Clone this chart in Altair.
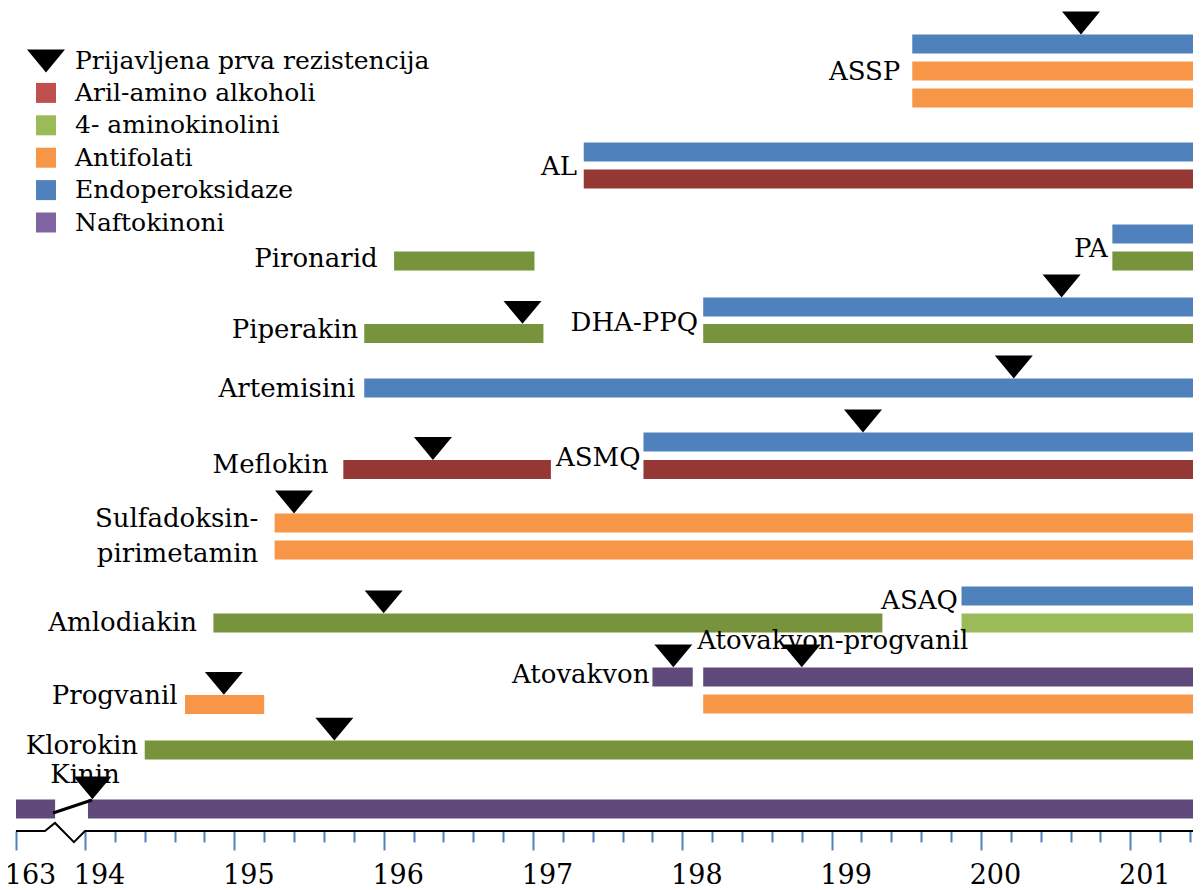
import altair as alt
import pandas as pd

FONT = "DejaVu Serif"
FS = 26          # drug labels
FS_LEG = 25      # legend labels
FS_AX = 27       # axis labels

# ---------------- data ----------------
X0 = 1935.38          # where the 1630s are drawn (axis is broken)
END = 2014.2          # right end of the time axis
BREAK_LABEL = "163"

CLASS_COLOR = {
    "aril": "#953735",
    "amino": "#77933c",
    "amino_light": "#9bbb59",
    "anti": "#f79646",
    "endo": "#4f81bd",
    "nafto": "#604a7b",
}

BAR_DRUG = ["ASSP", "ASSP", "ASSP", "AL", "AL", "PA", "PA", "Pironarid",
            "DHA-PPQ", "DHA-PPQ", "Piperakin", "Artemisini", "ASMQ", "ASMQ",
            "Meflokin", "Sulfadoksin-pirimetamin", "Sulfadoksin-pirimetamin",
            "ASAQ", "ASAQ", "Amlodiakin", "Atovakvon", "Atovakvon-progvanil",
            "Atovakvon-progvanil", "Progvanil", "Klorokin", "Kinin", "Kinin"]
BAR_CLASS = ["endo", "anti", "anti", "endo", "aril", "endo", "amino", "amino",
             "endo", "amino", "amino", "endo", "endo", "aril",
             "aril", "anti", "anti",
             "endo", "amino_light", "amino", "nafto", "nafto",
             "anti", "anti", "amino", "nafto", "nafto"]
BAR_START = [1995.4, 1995.4, 1995.4, 1973.4, 1973.4, 2008.8, 2008.8, 1960.7,
             1981.4, 1981.4, 1958.7, 1958.7, 1977.4, 1977.4,
             1957.3, 1952.7, 1952.7,
             1998.7, 1998.7, 1948.6, 1978.0, 1981.4,
             1981.4, 1946.7, 1944.0, X0, 1940.2]
BAR_END = [END, END, END, END, END, END, END, 1970.1,
           END, END, 1970.7, END, END, END,
           1971.2, END, END,
           END, END, 1993.4, 1980.7, END,
           END, 1952.0, END, 1938.0, END]
BAR_LANE = [0, 1, 2, 4, 5, 7.04, 8.04, 8.04,
            9.74, 10.72, 10.72, 12.74, 14.74, 15.76,
            15.76, 17.74, 18.74,
            20.44, 21.44, 21.44, 23.44, 23.44,
            24.44, 24.46, 26.15, 28.33, 28.33]

MARK_DRUG = ["ASSP", "DHA-PPQ", "Artemisini", "ASMQ", "Meflokin", "Piperakin",
             "Sulfadoksin-pirimetamin", "Amlodiakin", "Atovakvon",
             "Atovakvon-progvanil", "Progvanil", "Klorokin", "Kinin"]
MARK_YEAR = [2006.7, 2005.4, 2002.2, 1992.1, 1963.3, 1969.3,
             1954.0, 1960.0, 1979.4, 1988.0, 1949.3, 1956.7, 1940.5]
MARK_LANE = [0, 9.74, 12.74, 14.74, 15.76, 10.72,
             17.74, 21.44, 23.44, 23.44, 24.46, 26.15, 28.33]

# labels ending at their anchor (right aligned)
RLAB_TEXT = ["ASSP", "AL", "PA", "Pironarid", "DHA-PPQ", "Piperakin",
             "Artemisini", "ASMQ", "Meflokin", "Sulfadoksin-", "pirimetamin",
             "ASAQ", "Amlodiakin", "Atovakvon", "Progvanil", "Klorokin"]
RLAB_YEAR = [1994.6, 1972.95, 2008.5, 1959.6, 1981.05, 1958.3,
             1958.1, 1977.2, 1956.3, 1951.6, 1951.6,
             1998.45, 1947.5, 1977.8, 1946.2, 1943.55]
RLAB_LANE = [1.33, 4.85, 7.89, 8.26, 10.63, 10.89,
             13.07, 15.63, 15.89, 17.89, 19.19,
             20.93, 21.74, 23.67, 24.44, 26.30]
# label starting at its anchor (left aligned)
LLAB_TEXT = ["Atovakvon-progvanil"]
LLAB_YEAR = [1981.0]
LLAB_LANE = [22.41]
# centred label
CLAB_TEXT = ["Kinin"]
CLAB_YEAR = [1940.0]
CLAB_LANE = [27.38]

# Kinin connector across the axis break
CONN_YEAR = [1937.86, 1940.47]
CONN_LANE = [28.48, 28.0]

# axis line with the break zig-zag
AXIS_YEAR = [X0, 1937.32, 1937.99, 1939.26, 1940.0, END]
AXIS_LANE = [29.148, 29.148, 28.85, 29.56, 29.148, 29.148]

LEGEND_KINDS = ["Prijavljena prva rezistencija", "Aril-amino alkoholi",
                "4- aminokinolini", "Antifolati", "Endoperoksidaze", "Naftokinoni"]
LEGEND_COLORS = ["#000000", "#c0504d", "#9bbb59", "#f79646", "#4f81bd", "#8064a2"]
LEGEND_SHAPES = ["M-1,-0.6L1,-0.6L0,0.6Z", "square", "square", "square", "square", "square"]
LEGEND_SIZES = [1444, 400, 400, 400, 400, 400]

MAJOR_TICKS = [X0] + list(range(1940, 2011, 10))
MINOR_TICKS = [t for t in range(1942, 2015, 2) if t % 10]

# ---------------- frames ----------------
bars = pd.DataFrame({"drug": BAR_DRUG, "cls": BAR_CLASS, "start": BAR_START,
                     "end": BAR_END, "lane": BAR_LANE})
bars["color"] = bars["cls"].map(CLASS_COLOR)
marks = pd.DataFrame({"drug": MARK_DRUG, "year": MARK_YEAR, "lane": MARK_LANE,
                      "kind": LEGEND_KINDS[0]})
rlab = pd.DataFrame({"t": RLAB_TEXT, "year": RLAB_YEAR, "lane": RLAB_LANE})
llab = pd.DataFrame({"t": LLAB_TEXT, "year": LLAB_YEAR, "lane": LLAB_LANE})
clab = pd.DataFrame({"t": CLAB_TEXT, "year": CLAB_YEAR, "lane": CLAB_LANE})
conn = pd.DataFrame({"year": CONN_YEAR, "lane": CONN_LANE, "o": [0, 1]})
axl = pd.DataFrame({"year": AXIS_YEAR, "lane": AXIS_LANE, "o": list(range(len(AXIS_YEAR)))})

xs = alt.Scale(domain=[X0, END], nice=False, zero=False)
ys = alt.Scale(domain=[-1.333, 29.148], reverse=True, nice=False, zero=False)

label_expr = ("datum.value < 1939 ? '%s' : (datum.value %% 10 === 0 ? '' + floor(datum.value / 10) : '')"
              % BREAK_LABEL)
x_axis = alt.Axis(
    values=MAJOR_TICKS + MINOR_TICKS, domain=False, grid=False, title=None,
    tickColor="#4f81bd", tickWidth=2,
    tickSize={"condition": {"test": "datum.value % 10 === 0 || datum.value < 1939", "value": 19},
              "value": 11},
    labelExpr=label_expr, labelFont=FONT, labelFontSize=FS_AX, labelColor="black",
    labelOffset=14, labelPadding=12, labelOverlap=False, labelFlush=False,
)

X = lambda f: alt.X(f, scale=xs, axis=x_axis)
Y = lambda f: alt.Y(f, scale=ys, axis=None)

bar_layer = alt.Chart(bars).mark_rule(strokeWidth=19, strokeCap="butt").encode(
    x=X("start:Q"), x2="end:Q", y=Y("lane:Q"),
    color=alt.Color("color:N", scale=None),
)

conn_layer = alt.Chart(conn).mark_line(color="black", strokeWidth=3).encode(
    x=X("year:Q"), y=Y("lane:Q"), order="o:Q",
)

axis_layer = alt.Chart(axl).mark_line(color="black", strokeWidth=2, clip=False).encode(
    x=X("year:Q"), y=Y("lane:Q"), order="o:Q",
)

leg = dict(title=None, orient="none", legendX=11, legendY=34, labelFont=FONT,
           labelFontSize=FS_LEG, labelColor="black", labelOffset=10, rowPadding=6.4,
           padding=0, symbolStrokeWidth=0, labelLimit=700, symbolOpacity=1)

mark_layer = alt.Chart(marks).mark_point(filled=True, opacity=1, yOffset=-21).encode(
    x=X("year:Q"), y=Y("lane:Q"),
    color=alt.Color("kind:N", scale=alt.Scale(domain=LEGEND_KINDS, range=LEGEND_COLORS),
                    legend=alt.Legend(**leg)),
    shape=alt.Shape("kind:N", scale=alt.Scale(domain=LEGEND_KINDS, range=LEGEND_SHAPES),
                    legend=alt.Legend(**leg)),
    size=alt.Size("kind:N", scale=alt.Scale(type="ordinal", domain=LEGEND_KINDS, range=LEGEND_SIZES),
                  legend=alt.Legend(**leg)),
)

def text_layer(df, align):
    return alt.Chart(df).mark_text(align=align, baseline="alphabetic", font=FONT,
                                   fontSize=FS, color="black").encode(
        x=X("year:Q"), y=Y("lane:Q"), text="t:N",
    )

chart = alt.layer(
    bar_layer, conn_layer, axis_layer, mark_layer,
    text_layer(rlab, "right"), text_layer(llab, "left"), text_layer(clab, "center"),
).properties(
    width=1177, height=823,
    padding={"left": 8, "top": 0, "right": 0, "bottom": 59},
    autosize=alt.AutoSizeParams(type="none"),
).configure_view(stroke=None)

chart.save("out.html", embed_options={"renderer": "svg", "actions": False})
